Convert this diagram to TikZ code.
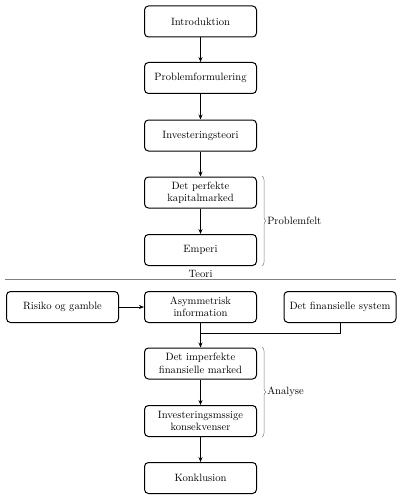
\documentclass[tikz,border=0pt]{standalone}
\usetikzlibrary{arrows.meta,decorations.pathreplacing}
\begin{document}
\begin{tikzpicture}[x=1pt,y=-1pt,
  every node/.style={font=\fontsize{10.6}{12.4}\selectfont},
  box/.style={draw,line width=1pt,rounded corners=4pt,minimum width=112pt,minimum height=31pt,align=center,inner sep=2pt},
  arr/.style={-{Stealth[length=5pt,width=4pt]},line width=0.7pt},
  conn/.style={line width=0.7pt},
  gbrace/.style={draw=gray,line width=0.5pt,decorate,decoration={brace,amplitude=4pt}},
  lbl/.style={anchor=west,inner sep=0pt}]
\useasboundingbox (0,0) rectangle (401,500);
\node[box] (intro) at (200.5,21.5) {Introduktion};
\node[box] (prob) at (200.5,78) {Problemformulering};
\node[box] (inv) at (200.5,135.5) {Investeringsteori};
\node[box] (perf) at (200.5,192.5) {Det perfekte\\kapitalmarked};
\node[box] (emp) at (200.5,250) {Emperi};
\node[box] (ris) at (62.5,307) {Risiko og gamble};
\node[box] (asym) at (200.5,307) {Asymmetrisk\\information};
\node[box] (fin) at (340,307) {Det finansielle system};
\node[box] (imp) at (200.5,363.5) {Det imperfekte\\finansielle marked};
\node[box] (kons) at (200.5,421) {Investeringsmssige\\konsekvenser};
\node[box] (konk) at (200.5,478) {Konklusion};
\draw[arr] (intro) -- (prob);
\draw[arr] (prob) -- (inv);
\draw[arr] (inv) -- (perf);
\draw[arr] (perf) -- (emp);
\draw[arr] (ris) -- (asym);
\draw[arr] (asym) -- (imp);
\coordinate (j) at (200.5,333);
\draw[conn] (fin.south) |- (j);
\draw[arr] (imp) -- (kons);
\draw[arr] (kons) -- (konk);
\coordinate (b1t) at (262,176);
\coordinate (b1b) at (262,266);
\draw[gbrace] (b1t) -- (b1b) node[midway,xshift=5pt,lbl] (pf) {Problemfelt};
\coordinate (b2t) at (262,347);
\coordinate (b2b) at (262,437);
\draw[gbrace] (b2t) -- (b2b) node[midway,xshift=5pt,lbl] (an) {Analyse};
\coordinate (tl) at (5,279);
\coordinate (tr) at (396,279);
\draw[gray,line width=0.5pt] (tl) -- (tr) node[midway,above=1pt,black,inner sep=0pt] (teori) {Teori};
\end{tikzpicture}
\end{document}
